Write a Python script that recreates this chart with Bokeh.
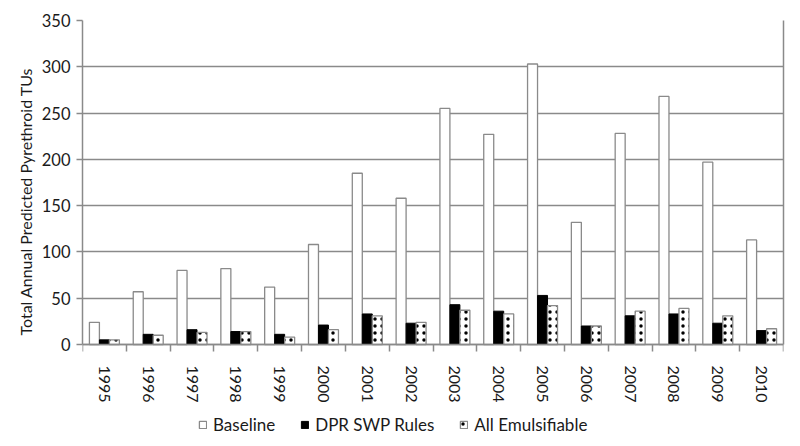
import math
from bokeh.plotting import figure
from bokeh.models import (ColumnDataSource, Range1d, FixedTicker, Legend, LegendItem,
                          LinearAxis, Title)
from bokeh.transform import dodge
from bokeh.embed import file_html
from bokeh.resources import INLINE

years = ["1995", "1996", "1997", "1998", "1999", "2000", "2001", "2002",
         "2003", "2004", "2005", "2006", "2007", "2008", "2009", "2010"]
baseline = [24, 57, 80, 82, 62, 108, 185, 158, 255, 227, 303, 132, 228, 268, 197, 113]
dpr_swp = [5, 11, 16, 14, 11, 21, 33, 23, 43, 36, 53, 20, 31, 33, 23, 15]
all_emuls = [5, 10, 13, 14, 8, 16, 31, 24, 37, 33, 42, 20, 36, 39, 31, 17]
y_ticks = [0, 50, 100, 150, 200, 250, 300, 350]
y_label = "Total Annual Predicted Pyrethroid TUs"

n = len(years)
centers = [i + 0.5 for i in range(n)]
bounds = [float(i) for i in range(n + 1)]

src = ColumnDataSource(dict(x=centers, baseline=baseline, dpr=dpr_swp, emuls=all_emuls))

GRAY = "#8a8a8a"
FONT = "Lato"
TXT = "#1a1a1a"

# value axis occupies the top 324px of a 424px frame;
# the lower 100px hold the category labels and the legend
PLOT_H, FRAME_H = 324, 424
ymax = y_ticks[-1]
ymin = -ymax * (FRAME_H - PLOT_H) / PLOT_H

p = figure(frame_width=701, frame_height=FRAME_H, output_backend="svg", toolbar_location=None,
           x_range=Range1d(0, n), y_range=Range1d(ymin, ymax),
           min_border_left=82, min_border_right=8, min_border_top=20,
           min_border_bottom=2)

bw = 0.228
r1 = p.vbar(x=dodge("x", -bw, range=p.x_range), top="baseline", width=bw, source=src,
            fill_color="white", line_color=GRAY, line_width=1.3)
r2 = p.vbar(x="x", top="dpr", width=bw, source=src,
            fill_color="black", line_color="black", line_width=1)
r3 = p.vbar(x=dodge("x", bw, range=p.x_range), top="emuls", width=bw, source=src,
            fill_color="white", line_color=GRAY, line_width=1.3,
            hatch_pattern="dot", hatch_color="black", hatch_scale=7, hatch_weight=1.6)

p.xgrid.grid_line_color = None
p.ygrid.grid_line_color = GRAY
p.ygrid.grid_line_width = 1.5
p.outline_line_color = None

p.yaxis.ticker = FixedTicker(ticks=y_ticks)
p.yaxis.bounds = (y_ticks[0], ymax)
p.yaxis.axis_line_color = GRAY
p.yaxis.axis_line_width = 1.5
p.yaxis.major_tick_line_color = GRAY
p.yaxis.major_tick_line_width = 1.5
p.yaxis.major_tick_out = 6
p.yaxis.major_tick_in = 0
p.yaxis.minor_tick_line_color = None
p.yaxis.major_label_text_font = FONT
p.yaxis.major_label_text_font_size = "16.5px"
p.yaxis.major_label_text_color = TXT
p.yaxis.major_label_standoff = 6

# axis title placed along the value part of the left edge
ylab = Title(text=y_label, align="left", offset=(FRAME_H - PLOT_H) + 9, standoff=8,
             text_font=FONT, text_font_style="normal", text_font_size="16px",
             text_color=TXT)
p.add_layout(ylab, "left")

right = LinearAxis(ticker=FixedTicker(ticks=[]), bounds=(y_ticks[0], ymax),
                   axis_line_color=GRAY, axis_line_width=1.5,
                   major_tick_line_color=None, minor_tick_line_color=None,
                   major_label_text_font_size="0px")
p.add_layout(right, "right")

p.xaxis.fixed_location = y_ticks[0]
p.xaxis.ticker = FixedTicker(ticks=centers, minor_ticks=bounds)
p.xaxis.major_label_overrides = {c: y for c, y in zip(centers, years)}
p.xaxis.axis_line_color = GRAY
p.xaxis.axis_line_width = 1.5
p.xaxis.major_tick_line_color = None
p.xaxis.major_tick_out = 0
p.xaxis.major_tick_in = 0
p.xaxis.minor_tick_line_color = GRAY
p.xaxis.minor_tick_line_width = 1.5
p.xaxis.minor_tick_out = 7
p.xaxis.minor_tick_in = 0
p.xaxis.major_label_orientation = -math.pi / 2
p.xaxis.major_label_standoff = 14
p.xaxis.major_label_text_font = FONT
p.xaxis.major_label_text_font_size = "16px"
p.xaxis.major_label_text_color = TXT

legend = Legend(items=[LegendItem(label="Baseline", renderers=[r1]),
                       LegendItem(label="DPR SWP Rules", renderers=[r2]),
                       LegendItem(label="All Emulsifiable", renderers=[r3])],
                orientation="horizontal", location=(116, 9),
                glyph_width=9, glyph_height=9, label_standoff=6, spacing=25,
                border_line_color=None, background_fill_alpha=0,
                label_text_font=FONT, label_text_font_size="17px",
                label_text_color=TXT, padding=0, margin=0)
p.add_layout(legend, "center")

open("out.html", "w").write(file_html(p, INLINE))
